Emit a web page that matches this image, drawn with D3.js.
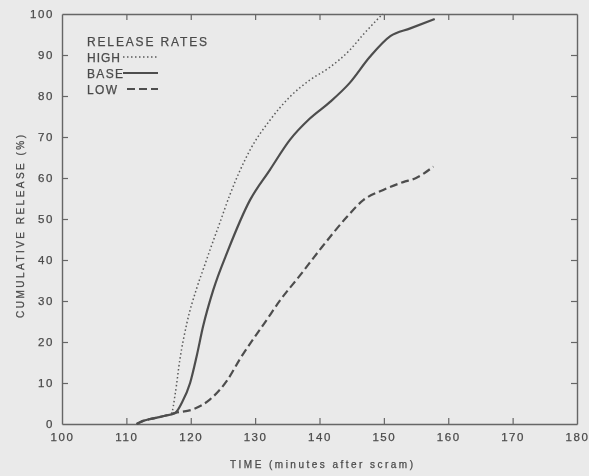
<!DOCTYPE html>
<html>
<head>
<meta charset="utf-8">
<script src="https://cdn.jsdelivr.net/npm/d3@7"></script>
<style>
  body { margin: 0; background: #eaeaea; }
  svg { display: block; }
  text { font-family: "Liberation Sans", Arial, sans-serif; fill: #4a4a4a; stroke: #4a4a4a; stroke-width: 0.25px; }
</style>
</head>
<body>
<svg id="chart"></svg>
<script>
// minutes after scram, cumulative release (%)
const highRelease = [
  [111.6, 0], [112.5, 0.7], [114, 1.3], [116, 2], [117, 2.6], [117.6, 7.5],
  [118.3, 15.6], [119.4, 24.6], [120.9, 33], [122, 38], [123, 42.5],
  [124.5, 49], [126.1, 56], [127.7, 62], [129.2, 66.8], [132.3, 74.1], [135.4, 79.8],
  [138.5, 83.9], [141.6, 87], [144.7, 91.2], [146.8, 95], [149.8, 100]
]
const baseRelease = [
  [111.6, 0], [112.5, 0.7], [114, 1.3], [116, 2], [117.6, 2.7], [118.6, 5.1],
  [119.9, 10], [120.9, 16.4], [121.9, 23.7], [123.5, 32.7], [125.8, 42.4],
  [129.2, 54.6], [132.3, 62], [135.4, 69.3], [138.5, 74.5], [141.6, 78.5],
  [144.7, 83.2], [147.8, 89.5], [151, 94.6], [154.1, 96.5], [157.9, 98.8]
]
const lowRelease = [
  [111.6, 0], [112.5, 0.7], [114, 1.3], [116, 2], [117.6, 2.7], [120.4, 3.6],
  [123, 6], [125.6, 10.5], [127.7, 16], [131.8, 25.4], [133.9, 30.2],
  [137, 36.3], [140, 42.4], [144.2, 50.4], [146.8, 54.6], [149.9, 57.1],
  [153, 59], [155, 60], [157.7, 62.8]
]
const xTicks = [100, 110, 120, 130, 140, 150, 160, 170, 180]
const yTicks = [0, 10, 20, 30, 40, 50, 60, 70, 80, 90, 100]
const legendItems = ['HIGH', 'BASE', 'LOW']

const width = 589
const height = 476
const margin = { top: 14, right: 12, bottom: 52, left: 62 }
const innerW = width - margin.left - margin.right
const innerH = height - margin.top - margin.bottom
const ink = '#4e4e4e'

const svg = d3.select('#chart')
  .attr('width', width)
  .attr('height', height)

svg.append('defs').append('filter')
  .attr('id', 'scan')
  .append('feGaussianBlur')
  .attr('stdDeviation', 0.45)

const g = svg.append('g')
  .attr('transform', `translate(${margin.left}, ${margin.top})`)
  .attr('filter', 'url(#scan)')

const xScale = d3.scaleLinear().domain([100, 180]).range([0, innerW])
const yScale = d3.scaleLinear().domain([0, 100]).range([innerH, 0])

const inner = v => v > 100 && v < 180
const innerY = v => v > 0 && v < 100

// bottom + left carry the labels, top + right only the inward ticks
const xAxis = d3.axisBottom(xScale).tickValues(xTicks).tickSizeInner(-6).tickSizeOuter(0).tickPadding(9)
const yAxis = d3.axisLeft(yScale).tickValues(yTicks).tickSizeInner(-6).tickSizeOuter(0).tickPadding(8)
const xTop = d3.axisTop(xScale).tickValues(xTicks.filter(inner)).tickSizeInner(-6).tickSizeOuter(0).tickFormat('')
const yRight = d3.axisRight(yScale).tickValues(yTicks.filter(innerY)).tickSizeInner(-6).tickSizeOuter(0).tickFormat('')

function styleAxis(sel) {
  sel.selectAll('path').attr('stroke', '#666').attr('stroke-width', 1.4)
  sel.selectAll('line').attr('stroke', '#666').attr('stroke-width', 1.2)
  sel.selectAll('text')
    .attr('fill', '#555')
    .style('font-size', '11.5px')
    .style('letter-spacing', '1.6px')
}

g.append('g').attr('id', 'x-axis')
  .attr('transform', `translate(0, ${innerH})`)
  .call(xAxis).call(styleAxis)
g.append('g').attr('id', 'y-axis').call(yAxis).call(styleAxis)
g.append('g').call(xTop).call(styleAxis)
g.append('g').attr('transform', `translate(${innerW}, 0)`).call(yRight).call(styleAxis)

// bottom ticks: hide the ones sitting on the corners
g.select('#x-axis').selectAll('.tick line').filter(d => !inner(d)).remove()
g.select('#y-axis').selectAll('.tick line').filter(d => !innerY(d)).remove()

const line = d3.line()
  .x(d => xScale(d[0]))
  .y(d => yScale(d[1]))
  .curve(d3.curveMonotoneX)

g.append('path')
  .datum(lowRelease)
  .attr('fill', 'none')
  .attr('stroke', ink)
  .attr('stroke-width', 2.2)
  .attr('stroke-dasharray', '8,4')
  .attr('d', line)

g.append('path')
  .datum(highRelease)
  .attr('fill', 'none')
  .attr('stroke', '#5a5a5a')
  .attr('stroke-width', 1.5)
  .attr('stroke-dasharray', '1.5,2.5')
  .attr('d', line)

g.append('path')
  .datum(baseRelease)
  .attr('fill', 'none')
  .attr('stroke', ink)
  .attr('stroke-width', 2.2)
  .attr('d', line)

// legend
const legend = svg.append('g').attr('filter', 'url(#scan)')

legend.append('text')
  .attr('x', 87)
  .attr('y', 46)
  .attr('textLength', 120)
  .attr('lengthAdjust', 'spacing')
  .style('font-size', '12px')
  .text('RELEASE RATES')

const dashes = ['1.5,2.5', null, '8,4']
const labelW = [33, 36, 30]
legendItems.forEach((name, i) => {
  const y = 62 + i * 16
  legend.append('text')
    .attr('x', 87)
    .attr('y', y)
    .attr('textLength', labelW[i])
    .attr('lengthAdjust', 'spacing')
    .style('font-size', '12px')
    .text(name)
  legend.append('line')
    .attr('x1', i === 2 ? 127 : 123)
    .attr('x2', 158)
    .attr('y1', y - 5)
    .attr('y2', y - 5)
    .attr('stroke', i === 0 ? '#5a5a5a' : ink)
    .attr('stroke-width', i === 0 ? 1.5 : 2.2)
    .attr('stroke-dasharray', dashes[i])
})

// axis titles
svg.append('text')
  .attr('x', 230)
  .attr('y', 468)
  .attr('textLength', 183)
  .attr('lengthAdjust', 'spacing')
  .attr('filter', 'url(#scan)')
  .style('font-size', '10px')
  .text('TIME (minutes after scram)')

svg.append('text')
  .attr('transform', 'translate(24, 318) rotate(-90)')
  .attr('textLength', 183)
  .attr('lengthAdjust', 'spacing')
  .attr('filter', 'url(#scan)')
  .style('font-size', '10px')
  .text('CUMULATIVE RELEASE (%)')
</script>
</body>
</html>
